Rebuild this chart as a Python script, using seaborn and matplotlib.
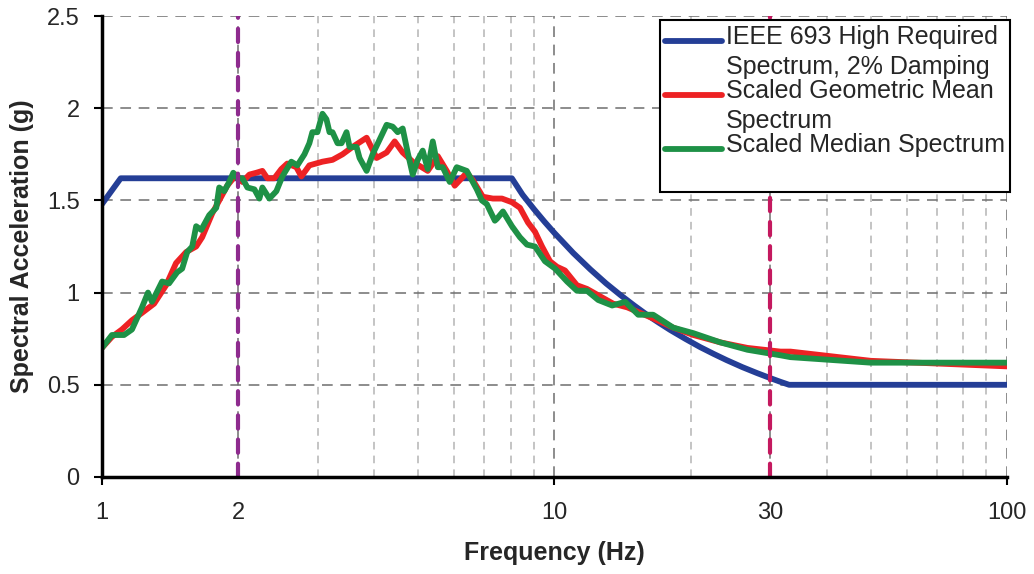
import numpy as np
import pandas as pd
import matplotlib
matplotlib.use("Agg")
import matplotlib.pyplot as plt
import seaborn as sns
from matplotlib.ticker import FixedLocator, LogLocator, NullFormatter, FixedFormatter
from matplotlib.legend_handler import HandlerLine2D
from matplotlib.lines import Line2D

# ---------------- data ----------------
ieee_freq = [1.0, 1.1, 8.05, 8.5, 9.0, 9.5, 10.0, 11.0, 12.0, 13.0, 14.0, 15.0, 16.0, 17.0, 18.0,
             19.5, 21.0, 22.5, 24.0, 26.0, 28.0, 30.0, 31.5, 33.0, 100.0]
ieee_sa = [1.48, 1.62, 1.62, 1.531, 1.454, 1.385, 1.323, 1.215, 1.126, 1.050, 0.986, 0.930, 0.880,
           0.837, 0.798, 0.748, 0.704, 0.667, 0.634, 0.596, 0.564, 0.536, 0.517, 0.500, 0.500]

geo_freq = [1.00, 1.052, 1.107, 1.165, 1.226, 1.304, 1.386, 1.458, 1.535, 1.615, 1.665, 1.753,
            1.835, 1.892, 1.981, 2.043, 2.117, 2.194, 2.262, 2.320, 2.404, 2.491, 2.568, 2.689,
            2.759, 2.873, 3.071, 3.232, 3.401, 3.579, 3.845, 4.046, 4.257, 4.435, 4.619, 4.861,
            5.089, 5.247, 5.522, 5.780, 6.020, 6.400, 6.599, 6.944, 7.308, 7.655, 8.054, 8.389,
            8.739, 9.056, 9.386, 9.773, 10.13, 10.55, 11.21, 11.80, 12.61, 13.48, 14.48, 15.47,
            16.52, 18.30, 20.27, 23.26, 26.69, 31.58, 33.23, 50.0, 100.0]
geo_sa = [0.70, 0.76, 0.80, 0.85, 0.89, 0.94, 1.04, 1.16, 1.22, 1.25, 1.30, 1.43,
          1.52, 1.58, 1.64, 1.60, 1.64, 1.65, 1.66, 1.62, 1.62, 1.67, 1.70, 1.68,
          1.63, 1.69, 1.71, 1.72, 1.75, 1.79, 1.84, 1.73, 1.76, 1.82, 1.76, 1.71,
          1.68, 1.66, 1.74, 1.66, 1.58, 1.65, 1.61, 1.52, 1.51, 1.51, 1.49, 1.46,
          1.38, 1.33, 1.25, 1.17, 1.14, 1.12, 1.04, 1.02, 0.98, 0.94, 0.92, 0.89,
          0.86, 0.81, 0.77, 0.73, 0.70, 0.68, 0.68, 0.63, 0.60]

med_freq = [1.00, 1.052, 1.119, 1.165, 1.226, 1.264, 1.290, 1.358, 1.407, 1.466, 1.504, 1.543,
            1.583, 1.615, 1.657, 1.726, 1.789, 1.816, 1.863, 1.911, 1.951, 1.991, 2.043, 2.096,
            2.172, 2.228, 2.262, 2.344, 2.429, 2.504, 2.621, 2.703, 2.802, 2.873, 2.917, 2.993,
            3.071, 3.134, 3.183, 3.232, 3.316, 3.384, 3.471, 3.525, 3.653, 3.709, 3.845, 3.964,
            4.108, 4.257, 4.390, 4.503, 4.619, 4.738, 4.861, 4.986, 5.115, 5.247, 5.383, 5.522,
            5.664, 5.869, 6.082, 6.400, 6.735, 6.909, 7.087, 7.383, 7.459, 7.694, 8.054, 8.389,
            8.694, 9.056, 9.527, 10.03, 10.66, 11.21, 11.80, 12.49, 13.41, 14.33, 15.31, 16.52,
            18.30, 20.27, 23.26, 26.69, 31.58, 33.23, 50.0, 100.0]
med_sa = [0.70, 0.77, 0.77, 0.80, 0.92, 1.00, 0.95, 1.06, 1.05, 1.11, 1.13, 1.22,
          1.25, 1.36, 1.34, 1.42, 1.46, 1.57, 1.55, 1.60, 1.65, 1.62, 1.62, 1.57,
          1.56, 1.51, 1.57, 1.51, 1.55, 1.63, 1.71, 1.69, 1.75, 1.81, 1.87, 1.87,
          1.97, 1.94, 1.87, 1.87, 1.81, 1.81, 1.87, 1.79, 1.79, 1.73, 1.66, 1.75,
          1.83, 1.91, 1.90, 1.87, 1.89, 1.76, 1.64, 1.72, 1.77, 1.67, 1.82, 1.68,
          1.68, 1.60, 1.68, 1.66, 1.56, 1.50, 1.48, 1.39, 1.40, 1.44, 1.36, 1.30,
          1.26, 1.25, 1.17, 1.13, 1.06, 1.01, 1.01, 0.96, 0.93, 0.95, 0.88, 0.88,
          0.81, 0.78, 0.73, 0.69, 0.66, 0.65, 0.62, 0.62]

series_labels = ["IEEE 693 High Required\nSpectrum, 2% Damping",
                 "Scaled Geometric Mean\nSpectrum",
                 "Scaled Median Spectrum\n"]
series_colors = ["#243E96", "#ED2224", "#1E9146"]

ref_freqs = [2, 30]
ref_colors = ["#8E2B8E", "#C4195F"]

x_ticks = [1, 2, 10, 30, 100]
x_ticklabels = ["1", "2", "10", "30", "100"]
y_ticks = [0, 0.5, 1, 1.5, 2, 2.5]
y_ticklabels = ["0", "0.5", "1", "1.5", "2", "2.5"]

# ---------------- style ----------------
sns.set_style("white")
plt.rcParams["font.family"] = ["Liberation Sans", "DejaVu Sans"]

fig = plt.figure(figsize=(10.34, 5.74), dpi=100)
ax = fig.add_axes([0.0986, 0.1690, 0.9739 - 0.0986, 0.9721 - 0.1690])

frames = [
    pd.DataFrame({"freq": ieee_freq, "sa": ieee_sa}),
    pd.DataFrame({"freq": geo_freq, "sa": geo_sa}),
    pd.DataFrame({"freq": med_freq, "sa": med_sa}),
]
for i, (df, lab, col) in enumerate(zip(frames, series_labels, series_colors)):
    sns.lineplot(data=df, x="freq", y="sa", ax=ax, color=col, linewidth=4.2,
                 label=lab, sort=False, zorder=3 + i, solid_joinstyle="round")

for f, c in zip(ref_freqs, ref_colors):
    ax.axvline(f, color=c, linewidth=3.0, linestyle=(0, (3.2, 2.6)),
               dash_capstyle="round", zorder=7)

ax.set_xscale("log")
ax.set_xlim(1, 100)
ax.set_ylim(0, 2.5)

ax.xaxis.set_major_locator(FixedLocator(x_ticks))
ax.xaxis.set_major_formatter(FixedFormatter(x_ticklabels))
ax.xaxis.set_minor_locator(LogLocator(base=10, subs=np.arange(2, 10)))
ax.xaxis.set_minor_formatter(NullFormatter())
ax.yaxis.set_major_locator(FixedLocator(y_ticks))
ax.yaxis.set_major_formatter(FixedFormatter(y_ticklabels))

# grid
ax.grid(False)
ax.grid(True, which="major", axis="y", color="#6E6E6E", linewidth=1.1,
        linestyle=(0, (7, 5)), zorder=1)
ax.grid(True, which="major", axis="x", color="#6E6E6E", linewidth=1.1,
        linestyle=(0, (7, 5)), zorder=1)
ax.grid(True, which="minor", axis="x", color="#B4B4B4", linewidth=1.1,
        linestyle=(0, (5, 4)), zorder=1)
ax.set_axisbelow(True)

# spines
for s in ["top", "right"]:
    ax.spines[s].set_visible(False)
for s in ["left", "bottom"]:
    ax.spines[s].set_visible(True)
    ax.spines[s].set_color("black")
    ax.spines[s].set_linewidth(2.5)
    ax.spines[s].set_zorder(8)

ax.tick_params(axis="x", which="major", direction="out", length=6, width=1.5,
               color="black", labelsize=17, pad=12, bottom=True)
ax.tick_params(axis="x", which="minor", length=0)
ax.tick_params(axis="y", which="major", direction="out", length=6, width=1.5,
               color="black", labelsize=17, pad=10, left=True)
majors = ax.xaxis.get_major_ticks()
for idx in (1, 3):
    majors[idx].tick1line.set_visible(False)

ax.set_xlabel("Frequency (Hz)", fontsize=18, fontweight="bold", labelpad=12)
ax.set_ylabel("Spectral Acceleration (g)", fontsize=18, fontweight="bold")
ax.yaxis.set_label_coords(-0.088, 0.5)
ax.yaxis.label.set_va("center")


class FirstLineHandler(HandlerLine2D):
    def __init__(self, offset, **kw):
        super().__init__(**kw)
        self.offset = offset

    def create_artists(self, legend, orig_handle, xdescent, ydescent, width,
                       height, fontsize, trans):
        arts = super().create_artists(legend, orig_handle, xdescent, ydescent,
                                      width, height, fontsize, trans)
        for a in arts:
            if isinstance(a, Line2D):
                a.set_ydata(np.asarray(a.get_ydata(), dtype=float) + self.offset)
        return arts


handles, labels = ax.get_legend_handles_labels()
leg_fs = 18
line_sp = 1.32
off = 0.5 * leg_fs * 0.74 * line_sp
leg = ax.legend(handles, labels, loc="upper right",
                bbox_to_anchor=(1010 / 1034, 1 - 20 / 574),
                bbox_transform=fig.transFigure, borderaxespad=0,
                fontsize=leg_fs, frameon=True, fancybox=False, framealpha=1,
                edgecolor="black", handlelength=2.3, handletextpad=0.15,
                labelspacing=0.0, borderpad=0.2,
                handler_map={h: FirstLineHandler(off) for h in handles})
leg.get_frame().set_linewidth(1.5)
leg.set_zorder(10)
for t in leg.get_texts():
    t.set_linespacing(line_sp)
for lh in leg.get_lines():
    lh.set_linewidth(4.2)

fig.savefig("out.png", dpi=100)
